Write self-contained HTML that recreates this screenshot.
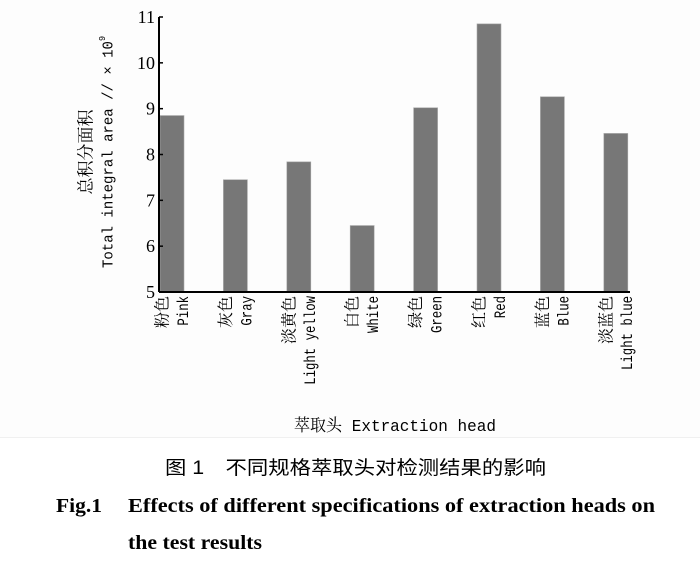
<!DOCTYPE html>
<html><head><meta charset="utf-8"><style>
html,body{margin:0;padding:0;background:#fff;}
svg{display:block;}
.cn{font-family:"Liberation Serif","Noto Serif CJK SC","Noto Sans CJK SC",serif;}
.mono{font-family:"Liberation Mono","Noto Serif CJK SC",monospace;}
</style></head><body>
<svg id="chart" width="700" height="567" viewBox="0 0 700 567" xmlns="http://www.w3.org/2000/svg">
<rect x="0" y="0" width="700" height="437" fill="#fdfdfd"/>
<line x1="0" y1="437.5" x2="700" y2="437.5" stroke="#f0f0f0"/>
<g id="plot"></g>
<text x="395" y="431" text-anchor="middle" font-size="17" class="mono" textLength="202" lengthAdjust="spacingAndGlyphs">萃取头 Extraction head</text>
<g transform="translate(86,152) rotate(-90)"><text x="0" y="0" text-anchor="middle" dominant-baseline="central" font-size="17" class="cn">总积分面积</text></g>
<g transform="translate(109,152) rotate(-90)"><text x="0" y="0" text-anchor="middle" dominant-baseline="central" font-size="15" class="mono" textLength="232" lengthAdjust="spacingAndGlyphs">Total integral area // × 10<tspan dy="-6" font-size="9">9</tspan></text></g>
<text x="165" y="474" font-size="19" font-family="'Liberation Sans','Noto Sans CJK SC',sans-serif" textLength="381" lengthAdjust="spacingAndGlyphs">图 1　不同规格萃取头对检测结果的影响</text>
<text x="56" y="512" font-size="20" font-weight="bold" font-family="'Liberation Serif',serif" textLength="46" lengthAdjust="spacingAndGlyphs">Fig.1</text>
<text x="128" y="512" font-size="20" font-weight="bold" font-family="'Liberation Serif',serif" textLength="527" lengthAdjust="spacingAndGlyphs">Effects of different specifications of extraction heads on</text>
<text x="128" y="549" font-size="20" font-weight="bold" font-family="'Liberation Serif',serif" textLength="134" lengthAdjust="spacingAndGlyphs">the test results</text>
</svg>
<script>
const categoriesCn = ["粉色","灰色","淡黄色","白色","绿色","红色","蓝色","淡蓝色"];
const categoriesEn = ["Pink","Gray","Light yellow","White","Green","Red","Blue","Light blue"];
const values = [8.85, 7.45, 7.84, 6.45, 9.02, 10.85, 9.26, 8.46];
const yTicks = [5, 6, 7, 8, 9, 10, 11];

const NS = "http://www.w3.org/2000/svg";
const plot = document.getElementById("plot");
const x0 = 159, x1 = 630, yMin = 5, yMax = 11, yBottom = 292, yTop = 17;
const step = 63.4, barW = 24, firstLeft = 160;
function yScale(v){ return yBottom - (v - yMin) / (yMax - yMin) * (yBottom - yTop); }
function xLeft(i){ return firstLeft + i * step; }
function mk(tag, attrs){ const e = document.createElementNS(NS, tag); for (const k in attrs) e.setAttribute(k, attrs[k]); return e; }

values.forEach((v, i) => {
  const r = mk("rect", {x: xLeft(i), y: yScale(v), width: barW, height: yBottom - yScale(v), fill: "#777", stroke: "#aaa", "stroke-width": 0.6});
  
  
  plot.appendChild(r);
  const cx = xLeft(i) + barW / 2;
  const g1 = mk("g", {transform: "translate(" + (cx - 9) + ",296) rotate(-90)"});
  
  
  const t1 = mk("text", {x: 0, y: 0, "text-anchor": "end", "dominant-baseline": "central", "font-size": 16, class: "cn"});
  t1.textContent = categoriesCn[i];
  g1.appendChild(t1); plot.appendChild(g1);
  const g2 = mk("g", {transform: "translate(" + (cx + 12) + ",296) rotate(-90)"});
  
  
  const t2 = mk("text", {x: 0, y: 0, "text-anchor": "end", "dominant-baseline": "central", "font-size": 16, class: "mono", textLength: categoriesEn[i].length * 7.4, lengthAdjust: "spacingAndGlyphs"});
  t2.textContent = categoriesEn[i];
  g2.appendChild(t2); plot.appendChild(g2);
});

yTicks.forEach(t => {
  const y = yScale(t);
  const tk = mk("line", {x1: x0, x2: x0 + 4, y1: y, y2: y, stroke: "#000", "stroke-width": 1.5});
  
  
  plot.appendChild(tk);
  const lb = mk("text", {x: x0 - 4, y: y + 6, "text-anchor": "end", "font-size": 18, "font-family": "'Liberation Serif',serif"});
  
  
  lb.textContent = t;
  plot.appendChild(lb);
});

const ya = mk("line", {x1: x0, x2: x0, y1: yTop, y2: yBottom, stroke: "#000", "stroke-width": 2});


plot.appendChild(ya);
const xa = mk("line", {x1: x0, x2: x1, y1: yBottom, y2: yBottom, stroke: "#000", "stroke-width": 2});


plot.appendChild(xa);
</script>
</body></html>
